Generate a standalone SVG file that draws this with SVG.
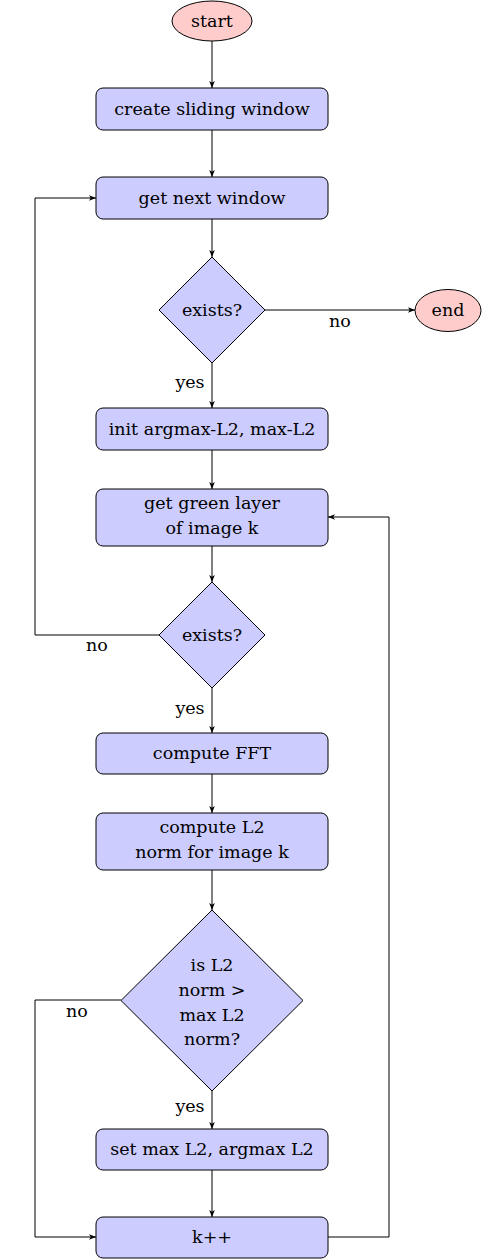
<svg xmlns="http://www.w3.org/2000/svg" width="482" height="1259" viewBox="0 0 482 1259">
<style>
.box{fill:#ccccff;stroke:#000;stroke-width:1}
.term{fill:#ffcccc;stroke:#000;stroke-width:1}
text{font-family:"DejaVu Serif",serif;font-size:17.5px;fill:#000;text-anchor:middle}
.c{fill:none;stroke:#000;stroke-width:1}
</style>
<defs>
<marker id="a" viewBox="0 0 10 8" refX="10" refY="4" markerWidth="7" markerHeight="6" orient="auto" markerUnits="userSpaceOnUse">
<path d="M0,0 L10,4 L0,8 L2.5,4 Z" fill="#000"/>
</marker>
</defs>
<g id="connectors">
<path class="c" d="M212,41 V88" marker-end="url(#a)"/>
<path class="c" d="M212,130 V177" marker-end="url(#a)"/>
<path class="c" d="M212,219 V257" marker-end="url(#a)"/>
<path class="c" d="M265,310 H415" marker-end="url(#a)"/>
<path class="c" d="M212,363 V408" marker-end="url(#a)"/>
<path class="c" d="M212,450 V489" marker-end="url(#a)"/>
<path class="c" d="M212,546 V582" marker-end="url(#a)"/>
<path class="c" d="M159,635 H35 V198 H96" marker-end="url(#a)"/>
<path class="c" d="M212,688 V733" marker-end="url(#a)"/>
<path class="c" d="M212,774 V813" marker-end="url(#a)"/>
<path class="c" d="M212,870 V910" marker-end="url(#a)"/>
<path class="c" d="M121,1000 H35 V1237 H96" marker-end="url(#a)"/>
<path class="c" d="M212,1091 V1129" marker-end="url(#a)"/>
<path class="c" d="M212,1170 V1217" marker-end="url(#a)"/>
<path class="c" d="M328,1237 H389 V517 H328" marker-end="url(#a)"/>
<text x="340" y="327">no</text>
<text x="190" y="388">yes</text>
<text x="97" y="651">no</text>
<text x="190" y="714">yes</text>
<text x="77" y="1017">no</text>
<text x="190" y="1112">yes</text>
</g>
<g id="start"><ellipse class="term" cx="212" cy="21" rx="40" ry="20"/><text x="212" y="27">start</text></g>
<g id="create"><rect class="box" x="96" y="88" width="232" height="42" rx="7"/><text x="212" y="115">create sliding window</text></g>
<g id="getnext"><rect class="box" x="96" y="177" width="232" height="42" rx="7"/><text x="212" y="204">get next window</text></g>
<g id="exists1"><polygon class="box" points="212,257 265,310 212,363 159,310"/><text x="212" y="316">exists?</text></g>
<g id="end"><ellipse class="term" cx="448" cy="310.5" rx="33" ry="21"/><text x="448" y="316">end</text></g>
<g id="init"><rect class="box" x="96" y="408" width="232" height="42" rx="7"/><text x="212" y="435">init argmax-L2, max-L2</text></g>
<g id="green"><rect class="box" x="96" y="489" width="232" height="57" rx="7"/><text x="212" y="509">get green layer</text><text x="212" y="534">of image k</text></g>
<g id="exists2"><polygon class="box" points="212,582 265,635 212,688 159,635"/><text x="212" y="641">exists?</text></g>
<g id="fft"><rect class="box" x="96" y="733" width="232" height="41" rx="7"/><text x="212" y="759">compute FFT</text></g>
<g id="l2"><rect class="box" x="96" y="813" width="232" height="57" rx="7"/><text x="212" y="833">compute L2</text><text x="212" y="858">norm for image k</text></g>
<g id="cmp"><polygon class="box" points="212,910 303,1000.5 212,1091 121,1000.5"/><text x="212" y="971">is L2</text><text x="212" y="996">norm &gt;</text><text x="212" y="1021">max L2</text><text x="212" y="1045">norm?</text></g>
<g id="setmax"><rect class="box" x="96" y="1129" width="232" height="41" rx="7"/><text x="212" y="1155">set max L2, argmax L2</text></g>
<g id="kpp"><rect class="box" x="96" y="1217" width="232" height="41" rx="7"/><text x="212" y="1243">k++</text></g>
</svg>
